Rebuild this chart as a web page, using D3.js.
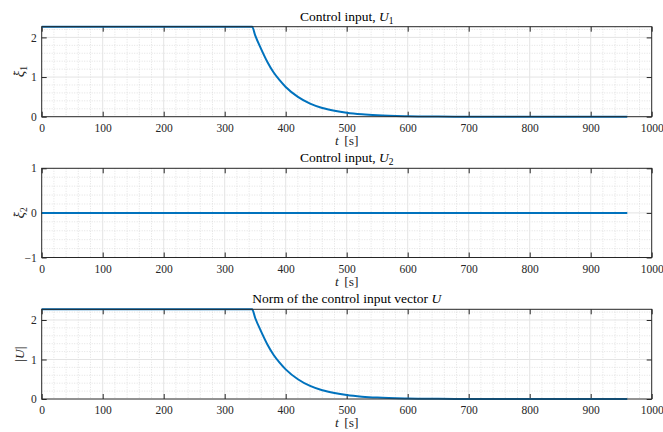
<!DOCTYPE html>
<html>
<head>
  <meta http-equiv="Content-Type" content="text/html; charset=UTF-8">
  <style>
    body { margin: 0; background: #fff; }
    svg { font-family: "Liberation Serif", "DejaVu Serif", serif; }
    .title { font-size: 13.5px; fill: #000; }
    .label { font-size: 13.5px; fill: #262626; }
    .grid-major line { stroke: #e4e4e4; stroke-width: 1; }
    .grid-minor line { stroke: #d6d6d6; stroke-width: 0.7; stroke-dasharray: 1,1.5; }
    .curve { fill: none; stroke: #0072BD; stroke-width: 2; }
    .frame { fill: none; stroke: #262626; stroke-width: 1; }
  </style>
</head>
<body>
  <svg width="663" height="432"></svg>
  <script src="https://cdn.jsdelivr.net/npm/d3@7"></script>
  <script>
    // values
    var time = [0, 345, 350, 360, 370, 380, 390, 400, 420, 440, 460, 480, 500, 525, 550, 600, 650, 700, 960];
    var u1 = [2.27, 2.27, 2.05, 1.70, 1.38, 1.12, 0.92, 0.75, 0.50, 0.33, 0.22, 0.15, 0.10, 0.06, 0.035, 0.012, 0.004, 0.001, 0];
    var time2 = [0, 960];
    var u2 = [0, 0];
    var normU = u1.slice();
    var xTicks = [0, 100, 200, 300, 400, 500, 600, 700, 800, 900, 1000];

    var svg = d3.select("svg");
    var left = 41.7, right = 651.7;

    var x = d3.scaleLinear().domain([0, 1000]).range([left, right]);

    var panels = [
      {top: 26.7, bottom: 116.7, ydom: [0, 2.27], yticks: [0, 1, 2], ystep: 0.2,
       t: time, v: u1, title: ["Control input, ", "U", "1"], ylab: "xi1"},
      {top: 168.3, bottom: 257.5, ydom: [-1, 1], yticks: [-1, 0, 1], ystep: 0.2,
       t: time2, v: u2, title: ["Control input, ", "U", "2"], ylab: "xi2"},
      {top: 309.3, bottom: 399, ydom: [0, 2.27], yticks: [0, 1, 2], ystep: 0.2,
       t: time, v: normU, title: ["Norm of the control input vector ", "U", ""], ylab: "normU"}
    ];

    panels.forEach(function(p) {
      var y = d3.scaleLinear().domain(p.ydom).range([p.bottom, p.top]);
      var g = svg.append("g");
      var h = p.bottom - p.top;

      // minor grid
      var xMinor = d3.range(0, 1001, 20).filter(function(d) { return d % 100 !== 0; });
      var yMinor = [];
      for (var k = Math.ceil(p.ydom[0] / p.ystep); k * p.ystep <= p.ydom[1] + 1e-9; k++) {
        var val = +(k * p.ystep).toFixed(4);
        if (Math.abs(val - Math.round(val)) > 1e-6) yMinor.push(val);
      }
      var gm = g.append("g").attr("class", "grid-minor");
      gm.selectAll(".vx").data(xMinor).enter().append("line")
        .attr("x1", x).attr("x2", x).attr("y1", p.top).attr("y2", p.bottom);
      gm.selectAll(".hy").data(yMinor).enter().append("line")
        .attr("x1", left).attr("x2", right).attr("y1", y).attr("y2", y);

      // major grid
      var gM = g.append("g").attr("class", "grid-major");
      gM.selectAll(".vx").data(xTicks.slice(1, -1)).enter().append("line")
        .attr("x1", x).attr("x2", x).attr("y1", p.top).attr("y2", p.bottom);
      gM.selectAll(".hy").data(p.yticks.filter(function(d) { return d !== p.ydom[0] && d !== p.ydom[1]; })).enter().append("line")
        .attr("x1", left).attr("x2", right).attr("y1", y).attr("y2", y);

      // axes, ticks inward
      function style(a) {
        a.select(".domain").remove();
        a.selectAll("line").attr("stroke", "#262626");
        a.attr("font-family", "Liberation Serif").attr("font-size", 11.5);
        a.selectAll("text").attr("fill", "#262626")
          .style("font-family", "'Liberation Serif', serif").style("font-size", "11.5px");
      }
      g.append("g").attr("transform", "translate(0," + p.bottom + ")")
        .call(d3.axisBottom(x).tickValues(xTicks).tickSize(-5).tickPadding(7).tickFormat(d3.format("d")))
        .call(style);
      g.append("g").attr("transform", "translate(0," + p.top + ")")
        .call(d3.axisTop(x).tickValues(xTicks).tickSize(-5).tickFormat(""))
        .call(style);
      g.append("g").attr("transform", "translate(" + left + ",0)")
        .call(d3.axisLeft(y).tickValues(p.yticks).tickSize(-5).tickPadding(5).tickFormat(d3.format("d")))
        .call(style);
      g.append("g").attr("transform", "translate(" + right + ",0)")
        .call(d3.axisRight(y).tickValues(p.yticks).tickSize(-5).tickFormat(""))
        .call(style);

      // data line
      var line = d3.line()
        .x(function(d, i) { return x(p.t[i]); })
        .y(function(d) { return y(d); })
        .curve(d3.curveMonotoneX);
      g.append("path").datum(p.v).attr("class", "curve").attr("d", line);

      g.append("rect").attr("class", "frame")
        .attr("x", left).attr("y", p.top).attr("width", right - left).attr("height", h);

      // title
      var tt = g.append("text").attr("class", "title")
        .attr("x", (left + right) / 2).attr("y", p.top - 6).attr("text-anchor", "middle");
      tt.append("tspan").text(p.title[0]);
      tt.append("tspan").attr("font-style", "italic").text(p.title[1]);
      if (p.title[2]) tt.append("tspan").attr("font-size", "9.5px").attr("dy", 3).text(p.title[2]);

      // x label
      var xl = g.append("text").attr("class", "label")
        .attr("x", (left + right) / 2).attr("y", p.bottom + 28).attr("text-anchor", "middle");
      xl.append("tspan").attr("font-style", "italic").text("t");
      xl.append("tspan").attr("dx", 2).text(" [s]");

      // y label
      var yl = g.append("text").attr("class", "label")
        .attr("transform", "translate(" + 24 + "," + (p.top + h / 2) + ") rotate(-90)")
        .attr("text-anchor", "middle");
      if (p.ylab === "normU") {
        yl.append("tspan").text("|");
        yl.append("tspan").attr("font-style", "italic").text("U");
        yl.append("tspan").text("|");
      } else {
        yl.append("tspan").attr("font-style", "italic").attr("font-size", "15px").text("\u03BE");
        yl.append("tspan").attr("dx", -5.5).attr("dy", -1.5).attr("font-size", "15px").text("\u02D9");
        yl.append("tspan").attr("font-size", "9.5px").attr("dx", 0.5).attr("dy", 4.5).text(p.ylab === "xi1" ? "1" : "2");
      }
    });
  </script>
</body>
</html>
